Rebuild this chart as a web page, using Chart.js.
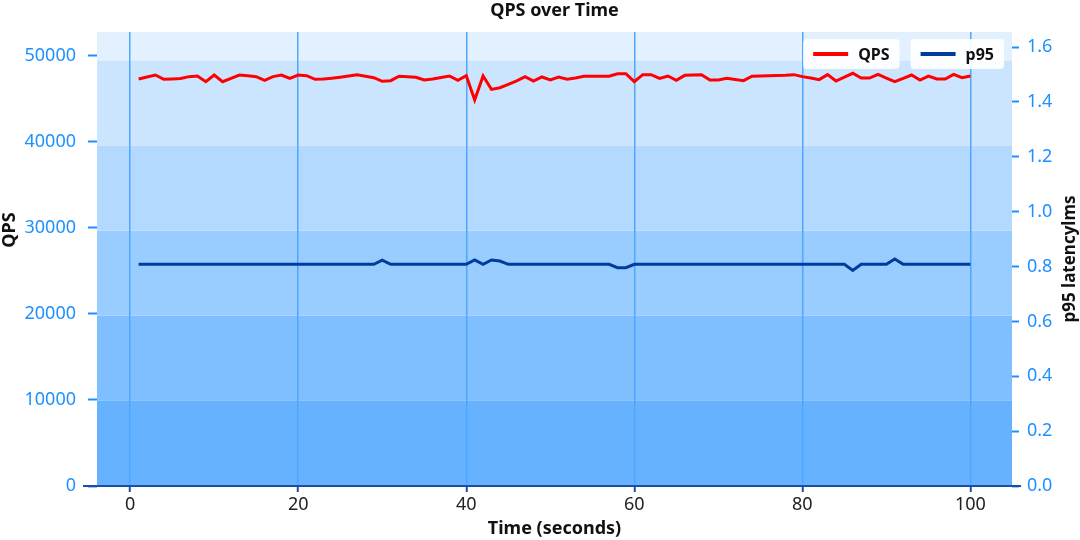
<!DOCTYPE html>
<html><head><meta charset="utf-8">
<script src="https://cdn.jsdelivr.net/npm/chart.js@4.4.1/dist/chart.umd.min.js"></script>
<style>html,body{margin:0;padding:0;background:#fff;}#wrap{width:1080px;height:540px;position:relative;}</style>
</head><body><div id="wrap"><canvas id="c"></canvas></div>
<script>
const timeSeconds = [1,2,3,4,5,6,7,8,9,10,11,12,13,14,15,16,17,18,19,20,
21,22,23,24,25,26,27,28,29,30,31,32,33,34,35,36,37,38,39,40,
41,42,43,44,45,46,47,48,49,50,51,52,53,54,55,56,57,58,59,60,
61,62,63,64,65,66,67,68,69,70,71,72,73,74,75,76,77,78,79,80,
81,82,83,84,85,86,87,88,89,90,91,92,93,94,95,96,97,98,99,100];
const qpsValues = [47330,47560,47790,47290,47330,47380,47600,47670,47010,47790,
47010,47400,47790,47700,47600,47170,47600,47790,47400,47790,
47710,47290,47330,47400,47530,47680,47830,47650,47480,47060,
47130,47640,47580,47520,47210,47330,47500,47670,47170,47710,
44880,47670,46120,46310,46700,47100,47600,47090,47560,47210,
47560,47290,47450,47640,47640,47640,47640,47940,47940,47010,
47830,47830,47400,47670,47170,47750,47780,47830,47210,47210,
47400,47260,47130,47640,47660,47690,47720,47760,47830,47600,
47450,47250,47830,47090,47540,47990,47440,47440,47870,47440,
47010,47400,47790,47210,47670,47330,47330,47870,47480,47670];
const p95Values = [0.808,0.808,0.808,0.808,0.808,0.808,0.808,0.808,0.808,0.808,
0.808,0.808,0.808,0.808,0.808,0.808,0.808,0.808,0.808,0.808,
0.808,0.808,0.808,0.808,0.808,0.808,0.808,0.808,0.808,0.823,
0.808,0.808,0.808,0.808,0.808,0.808,0.808,0.808,0.808,0.808,
0.824,0.808,0.824,0.820,0.808,0.808,0.808,0.808,0.808,0.808,
0.808,0.808,0.808,0.808,0.808,0.808,0.808,0.796,0.796,0.808,
0.808,0.808,0.808,0.808,0.808,0.808,0.808,0.808,0.808,0.808,
0.808,0.808,0.808,0.808,0.808,0.808,0.808,0.808,0.808,0.808,
0.808,0.808,0.808,0.808,0.808,0.786,0.808,0.808,0.808,0.808,
0.8275,0.808,0.808,0.808,0.808,0.808,0.808,0.808,0.808,0.808];
const xTickValues = [0,20,40,60,80,100];
const qpsTickValues = [0,10000,20000,30000,40000,50000];
const p95TickValues = [0,0.2,0.4,0.6,0.8,1.0,1.2,1.4,1.6];
const bandEdges = [0,9900,19800,29700,39600,49500,52790];
const bandColors = ['#66b2ff','#80bfff','#99ccff','#b3d9ff','#cce5ff','#e3f1ff'];
const chartTitle = 'QPS over Time';
const xTitle = 'Time (seconds)';
const yTitle = 'QPS';
const y2Title = 'p95 latencylms';
const FONT = "'Noto Sans', sans-serif";

const decor = {
  id: 'decor',
  beforeDraw(chart) {
    const ctx = chart.ctx, ca = chart.chartArea, y = chart.scales.y;
    ctx.save();
    for (let i = 0; i < bandColors.length; i++) {
      const y0 = y.getPixelForValue(bandEdges[i]);
      const y1 = y.getPixelForValue(bandEdges[i + 1]);
      ctx.fillStyle = bandColors[i];
      ctx.fillRect(ca.left, y1, ca.right - ca.left, y0 - y1);
    }
    ctx.restore();
  },
  beforeDatasetsDraw(chart) {
    const ctx = chart.ctx, ca = chart.chartArea;
    ctx.save();
    ctx.strokeStyle = '#1d4ea6';
    ctx.lineWidth = 2;
    ctx.beginPath();
    ctx.moveTo(ca.left - 14, ca.bottom);
    ctx.lineTo(ca.right + 9, ca.bottom);
    ctx.stroke();
    ctx.restore();
  },
  afterDraw(chart) {
    const ctx = chart.ctx, ca = chart.chartArea;
    const dpr = chart.currentDevicePixelRatio || 1;
    ctx.save();
    ctx.fillStyle = '#111';
    ctx.textAlign = 'center';
    ctx.textBaseline = 'middle';
    ctx.font = `bold 18px ${FONT}`;
    ctx.translate(10, (ca.top + ca.bottom) / 2 - 29);
    ctx.rotate(-Math.PI / 2);
    ctx.fillText(yTitle, 0, 0);
    ctx.setTransform(dpr, 0, 0, dpr, 0, 0);
    ctx.translate(1070, (ca.top + ca.bottom) / 2);
    ctx.rotate(-Math.PI / 2);
    ctx.font = `bold 17px ${FONT}`;
    ctx.fillText(y2Title, 0, 0);
    ctx.setTransform(dpr, 0, 0, dpr, 0, 0);
    ctx.font = `bold 16px ${FONT}`;
    const items = chart.data.datasets.map(d => ({ label: d.label, color: d.borderColor }));
    const widths = items.map(it => 10 + 35 + 10 + ctx.measureText(it.label).width + 10);
    const top = ca.top + 7, h = 30;
    let right = ca.right - 8;
    for (let i = items.length - 1; i >= 0; i--) {
      const w = widths[i], left = right - w;
      ctx.fillStyle = 'rgba(255,255,255,0.92)';
      ctx.beginPath();
      ctx.roundRect(left, top, w, h, 4);
      ctx.fill();
      ctx.strokeStyle = items[i].color;
      ctx.lineWidth = 4;
      ctx.beginPath();
      ctx.moveTo(left + 10, top + h / 2);
      ctx.lineTo(left + 45, top + h / 2);
      ctx.stroke();
      ctx.fillStyle = '#111';
      ctx.textAlign = 'left';
      ctx.textBaseline = 'middle';
      ctx.fillText(items[i].label, left + 55, top + h / 2 + 1);
      right = left - 11;
    }
    ctx.restore();
  }
};

new Chart(document.getElementById('c'), {
  type: 'line',
  data: {
    datasets: [
      { label: 'QPS', data: timeSeconds.map((t, i) => ({ x: t, y: qpsValues[i] })),
        borderColor: '#ff0000', borderWidth: 3, pointRadius: 0, tension: 0, yAxisID: 'y' },
      { label: 'p95', data: timeSeconds.map((t, i) => ({ x: t, y: p95Values[i] })),
        borderColor: '#003c9e', borderWidth: 3, pointRadius: 0, tension: 0, yAxisID: 'y2' }
    ]
  },
  options: {
    responsive: true, maintainAspectRatio: false, animation: false,
    layout: { padding: 0 },
    plugins: {
      legend: { display: false },
      tooltip: { enabled: false },
      title: { display: true, text: chartTitle, color: '#111', fullSize: false,
        font: { family: FONT, size: 18, weight: 'bold', lineHeight: 1.2 },
        padding: { top: 0, bottom: 10.4 } }
    },
    scales: {
      x: {
        type: 'linear', min: -3.95, max: 104.95,
        afterBuildTicks: s => { s.ticks = xTickValues.map(v => ({ value: v })); },
        ticks: { color: '#222', font: { family: FONT, size: 18 }, padding: 2, maxRotation: 0, autoSkip: false,
          callback: v => String(v) },
        grid: { color: '#4ea7ff', lineWidth: 1.5, drawTicks: true, tickColor: '#1d4ea6', tickLength: 6, tickWidth: 2 },
        border: { display: false },
        title: { display: true, text: xTitle, color: '#111', font: { family: FONT, size: 18, weight: 'bold' },
          padding: { top: 0, bottom: 0 } },
        afterFit: s => { s.height = 54; }
      },
      y: {
        position: 'left', min: 0, max: 52790,
        afterBuildTicks: s => { s.ticks = qpsTickValues.map(v => ({ value: v })); },
        ticks: { color: '#1e90ff', font: { family: FONT, size: 18 }, padding: 12, callback: v => String(v) },
        grid: { drawOnChartArea: false, drawTicks: true, tickColor: '#1e90ff', tickLength: 9, tickWidth: 2 },
        border: { display: false },
        afterFit: s => { s.width = 97; }
      },
      y2: {
        position: 'right', min: 0, max: 1.655,
        afterBuildTicks: s => { s.ticks = p95TickValues.map(v => ({ value: v })); },
        ticks: { color: '#1e90ff', font: { family: FONT, size: 18 }, padding: 8, callback: v => v.toFixed(1) },
        grid: { drawOnChartArea: false, drawTicks: true, tickColor: '#1e90ff', tickLength: 7, tickWidth: 2 },
        border: { display: false },
        afterFit: s => { s.width = 68; }
      }
    }
  },
  plugins: [decor]
});
</script></body></html>
